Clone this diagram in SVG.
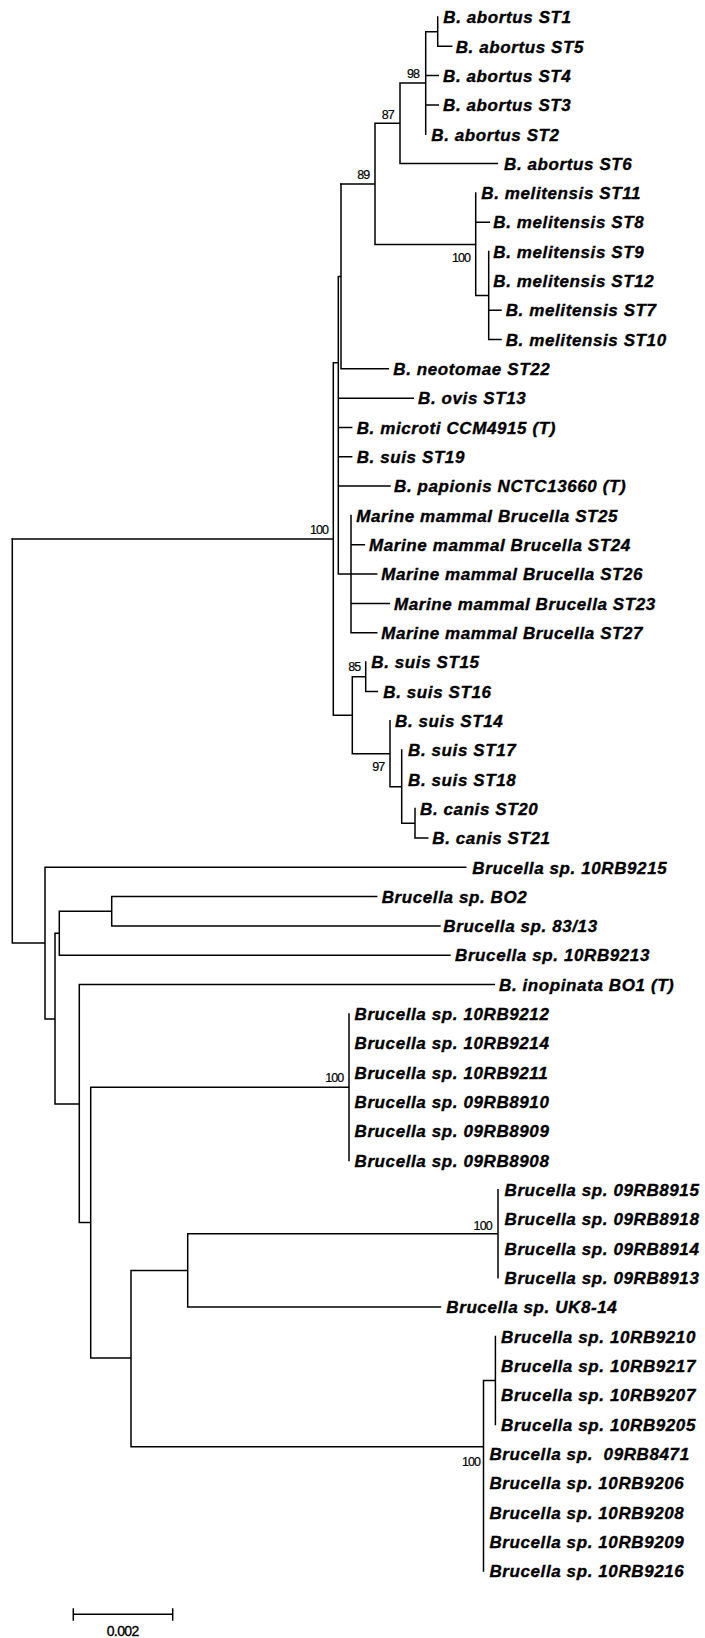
<svg xmlns="http://www.w3.org/2000/svg" width="705" height="1638" viewBox="0 0 705 1638">
<style>
.lbl{font-family:"Liberation Sans",Arial,Helvetica,sans-serif;font-weight:bold;font-style:italic;font-size:17px;letter-spacing:0.6px;fill:#000;stroke:#000;stroke-width:0.35px}
.bs{font-family:"Liberation Sans",Arial,Helvetica,sans-serif;font-size:12.5px;letter-spacing:-0.9px;fill:#000;stroke:#000;stroke-width:0.2px;text-anchor:middle}
.sc{font-family:"Liberation Sans",Arial,Helvetica,sans-serif;font-size:14px;letter-spacing:-0.6px;fill:#000;stroke:#000;stroke-width:0.35px;text-anchor:middle}
.br{fill:none;stroke:#000;stroke-width:1.5;stroke-linecap:square}
</style>
<rect width="705" height="1638" fill="#fff"/>
<g id="connectors" class="br">
<path d="M437.7 17 V46.3 H451.7 M425.7 31.7 H437.7 M425.7 31.7 V134.3 M425.7 75.6 H438.3 M425.7 105 H438.3 M400 83 H425.7 M400 83 V163.6 H497.3 M375 123.3 H400 M375 123.3 V244.4 H475.7 M341 183.9 H375 M475.7 192.9 V295.6 M475.7 222.2 H489.3 M475.7 295.6 H488.7 M488.7 251.6 V339.5 H501 M488.7 310.2 H501"/>
<path d="M341 183.9 V368.8 H388.3 M338.3 276.4 H341 M338.3 276.4 V574.1 H376.7 M338.3 398.2 H413.3 M338.3 427.5 H351.7 M338.3 456.8 H351.7 M338.3 486.1 H390 M351 515.4 V632.7 H376.7 M351 544.8 H364.3 M351 603.4 H389.3 M333.3 362.7 H338.3 M333.3 362.7 V715.2 H352.3 M12.3 539 H333.3"/>
<path d="M352.3 676.7 V753.7 H390 M352.3 676.7 H365.7 M365.7 662 V691.4 H377.3 M390 720.7 V786.7 H401.7 M401.7 750 V823.3 H415 M415 808.6 V838 H427.7"/>
<path d="M12.3 539 V943 H45 M45 867.3 V1019 H55 M45 867.3 H465.7 M55 933.3 V1104 H79.3 M55 933.3 H59.3 M59.3 911.3 V955.2 H450 M59.3 911.3 H111.7 M111.7 896.6 V925.9 H440 M111.7 896.6 H376.7 M79.3 984.6 V1222.6 H90.7 M79.3 984.6 H494.3 M90.7 1087.2 V1358 H131 M90.7 1087.2 H349 M349 1013.9 V1160.5 M131 1270.5 V1446.7 H483.5 M131 1270.5 H187.7 M187.7 1233.8 V1307.1 H440.4 M187.7 1233.8 H498 M498 1189.8 V1277.8 M483.5 1380.4 V1571 M483.5 1380.4 H495.4 M495.4 1336.4 V1424.4"/>
</g>
<g id="support">
<text class="bs" x="413" y="77.5">98</text>
<text class="bs" x="387.7" y="118.5">87</text>
<text class="bs" x="363.3" y="178.8">89</text>
<text class="bs" x="461" y="262">100</text>
<text class="bs" x="319" y="533.8">100</text>
<text class="bs" x="354.3" y="671">85</text>
<text class="bs" x="378.3" y="771">97</text>
<text class="bs" x="334.3" y="1081.8">100</text>
<text class="bs" x="482.7" y="1229.5">100</text>
<text class="bs" x="471" y="1465.5">100</text>
</g>
<g id="leaves" class="lbl">
<g id="n1"><text x="443.3" y="23.2">B. abortus ST1</text></g>
<g id="n2"><text x="455.7" y="52.5">B. abortus ST5</text></g>
<g id="n3"><text x="443" y="81.8">B. abortus ST4</text></g>
<g id="n4"><text x="443" y="111.2">B. abortus ST3</text></g>
<g id="n5"><text x="431.3" y="140.5">B. abortus ST2</text></g>
<g id="n6"><text x="504" y="169.8">B. abortus ST6</text></g>
<g id="n7"><text x="481.3" y="199.1">B. melitensis ST11</text></g>
<g id="n8"><text x="493.3" y="228.4">B. melitensis ST8</text></g>
<g id="n9"><text x="493.3" y="257.8">B. melitensis ST9</text></g>
<g id="n10"><text x="493.3" y="287.1">B. melitensis ST12</text></g>
<g id="n11"><text x="505.7" y="316.4">B. melitensis ST7</text></g>
<g id="n12"><text x="505.7" y="345.7">B. melitensis ST10</text></g>
<g id="n13"><text x="393.3" y="375">B. neotomae ST22</text></g>
<g id="n14"><text x="418" y="404.4">B. ovis ST13</text></g>
<g id="n15"><text x="356.7" y="433.7">B. microti CCM4915 (T)</text></g>
<g id="n16"><text x="356.7" y="463">B. suis ST19</text></g>
<g id="n17"><text x="394" y="492.3">B. papionis NCTC13660 (T)</text></g>
<g id="n18"><text x="356.3" y="521.6">Marine mammal Brucella ST25</text></g>
<g id="n19"><text x="369" y="551">Marine mammal Brucella ST24</text></g>
<g id="n20"><text x="381.3" y="580.3">Marine mammal Brucella ST26</text></g>
<g id="n21"><text x="394" y="609.6">Marine mammal Brucella ST23</text></g>
<g id="n22"><text x="381.3" y="638.9">Marine mammal Brucella ST27</text></g>
<g id="n23"><text x="371.3" y="668.2">B. suis ST15</text></g>
<g id="n24"><text x="383.3" y="697.6">B. suis ST16</text></g>
<g id="n25"><text x="395" y="726.9">B. suis ST14</text></g>
<g id="n26"><text x="408" y="756.2">B. suis ST17</text></g>
<g id="n27"><text x="408" y="785.5">B. suis ST18</text></g>
<g id="n28"><text x="420" y="814.8">B. canis ST20</text></g>
<g id="n29"><text x="432.3" y="844.2">B. canis ST21</text></g>
<g id="n30"><text x="472.3" y="873.5">Brucella sp. 10RB9215</text></g>
<g id="n31"><text x="381.7" y="902.8">Brucella sp. BO2</text></g>
<g id="n32"><text x="443.3" y="932.1">Brucella sp. 83/13</text></g>
<g id="n33"><text x="455" y="961.4">Brucella sp. 10RB9213</text></g>
<g id="n34"><text x="499" y="990.8">B. inopinata BO1 (T)</text></g>
<g id="n35"><text x="354.5" y="1020.1">Brucella sp. 10RB9212</text></g>
<g id="n36"><text x="354.5" y="1049.4">Brucella sp. 10RB9214</text></g>
<g id="n37"><text x="354.5" y="1078.7">Brucella sp. 10RB9211</text></g>
<g id="n38"><text x="354.5" y="1108">Brucella sp. 09RB8910</text></g>
<g id="n39"><text x="354.5" y="1137.4">Brucella sp. 09RB8909</text></g>
<g id="n40"><text x="354.5" y="1166.7">Brucella sp. 09RB8908</text></g>
<g id="n41"><text x="504.5" y="1196">Brucella sp. 09RB8915</text></g>
<g id="n42"><text x="504.5" y="1225.3">Brucella sp. 09RB8918</text></g>
<g id="n43"><text x="504.5" y="1254.6">Brucella sp. 09RB8914</text></g>
<g id="n44"><text x="504.5" y="1284">Brucella sp. 09RB8913</text></g>
<g id="n45"><text x="446.3" y="1313.3">Brucella sp. UK8-14</text></g>
<g id="n46"><text x="501" y="1342.6">Brucella sp. 10RB9210</text></g>
<g id="n47"><text x="501" y="1371.9">Brucella sp. 10RB9217</text></g>
<g id="n48"><text x="501" y="1401.2">Brucella sp. 10RB9207</text></g>
<g id="n49"><text x="501" y="1430.6">Brucella sp. 10RB9205</text></g>
<g id="n50"><text x="489.4" y="1459.9" xml:space="preserve">Brucella sp.  09RB8471</text></g>
<g id="n51"><text x="489.4" y="1489.2">Brucella sp. 10RB9206</text></g>
<g id="n52"><text x="489.4" y="1518.5">Brucella sp. 10RB9208</text></g>
<g id="n53"><text x="489.4" y="1547.8">Brucella sp. 10RB9209</text></g>
<g id="n54"><text x="489.4" y="1577.2">Brucella sp. 10RB9216</text></g>
</g>
<g id="scalebar">
<path class="br" d="M73.3 1614.3 H172.7 M73.3 1609 V1620 M172.7 1609 V1620"/>
<text class="sc" x="122.7" y="1635.5">0.002</text>
</g>
</svg>
